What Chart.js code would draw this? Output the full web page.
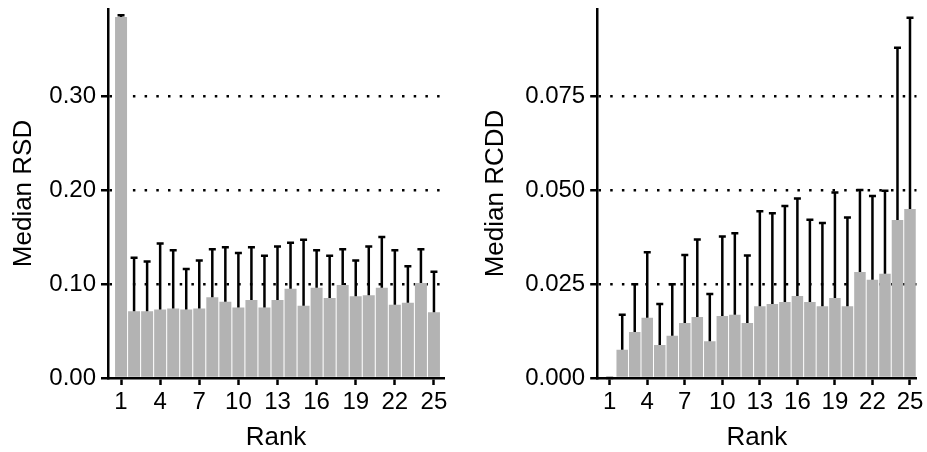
<!DOCTYPE html>
<html>
<head>
<meta charset="utf-8">
<script src="https://cdn.jsdelivr.net/npm/chart.js@4"></script>
<style>
  body { margin: 0; background: #fff; }
  #wrap { position: relative; width: 927px; height: 452px; }
  canvas { position: absolute; top: 0; }
  #rsd-chart { left: 0; }
  #rcdd-chart { left: 463px; }
</style>
</head>
<body>
<div id="wrap">
  <canvas id="rsd-chart" width="463" height="452"></canvas>
  <canvas id="rcdd-chart" width="464" height="452"></canvas>
</div>
<script>
const ranks = [1, 2, 3, 4, 5, 6, 7, 8, 9, 10, 11, 12, 13, 14, 15, 16, 17, 18, 19, 20, 21, 22, 23, 24, 25];
const rankTicks = [1, 4, 7, 10, 13, 16, 19, 22, 25];

const rsdMedian = [0.384, 0.071, 0.071, 0.073, 0.074, 0.073, 0.074, 0.086, 0.081, 0.075, 0.083, 0.075, 0.083,
  0.095, 0.077, 0.096, 0.085, 0.099, 0.087, 0.088, 0.096, 0.078, 0.080, 0.101, 0.070];
const rsdUpper = [0.386, 0.128, 0.124, 0.143, 0.136, 0.116, 0.125, 0.137, 0.139, 0.133, 0.139, 0.130, 0.140,
  0.144, 0.147, 0.136, 0.130, 0.137, 0.125, 0.140, 0.150, 0.136, 0.119, 0.137, 0.113];
const rsdTicks = [0, 0.1, 0.2, 0.3];

const rcddMedian = [0.0, 0.0075, 0.0122, 0.0160, 0.0088, 0.0112, 0.0146, 0.0162, 0.0098, 0.0165, 0.0168, 0.0146,
  0.0191, 0.0197, 0.0202, 0.0218, 0.0202, 0.0191, 0.0213, 0.0191, 0.0282, 0.0261, 0.0277, 0.0420, 0.0449];
const rcddUpper = [0.0, 0.0168, 0.0249, 0.0334, 0.0197, 0.0249, 0.0327, 0.0368, 0.0223, 0.0376, 0.0385, 0.0326,
  0.0443, 0.0438, 0.0457, 0.0477, 0.0421, 0.0412, 0.0493, 0.0427, 0.0500, 0.0484, 0.0498, 0.0878, 0.0958];
const rcddTicks = [0, 0.025, 0.05, 0.075];

const BAR_GREY = "#b3b3b3";
const FONT_FAMILY = "'Liberation Sans', Arial, Helvetica, sans-serif";
const TICK_FONT = { family: FONT_FAMILY, size: 24 };
const TITLE_FONT = { family: FONT_FAMILY, size: 26, lineHeight: 1 };

Chart.defaults.color = "#000";

// upper whiskers drawn from the top of each bar
const errorBars = {
  id: "errorBars",
  afterDatasetsDraw(chart, args, opts) {
    const { ctx } = chart;
    const yScale = chart.scales.y;
    ctx.save();
    ctx.strokeStyle = "#000";
    ctx.lineWidth = 2.5;
    chart.getDatasetMeta(0).data.forEach((bar, i) => {
      const top = yScale.getPixelForValue(opts.upper[i]);
      ctx.beginPath();
      ctx.moveTo(bar.x, bar.y);
      ctx.lineTo(bar.x, top);
      ctx.moveTo(bar.x - 3.5, top);
      ctx.lineTo(bar.x + 3.5, top);
      ctx.stroke();
    });
    ctx.restore();
  },
};

function buildChart(canvasId, cfg) {
  const points = ranks.map((r, i) => ({ x: r, y: cfg.median[i] }));
  return new Chart(document.getElementById(canvasId), {
    type: "bar",
    data: {
      datasets: [
        {
          data: points,
          backgroundColor: BAR_GREY,
          borderWidth: 0,
          barPercentage: 0.92,
          categoryPercentage: 1,
        },
      ],
    },
    options: {
      responsive: false,
      animation: false,
      layout: { padding: { top: 9, right: cfg.padRight, left: 0, bottom: 0 } },
      plugins: {
        legend: { display: false },
        tooltip: { enabled: false },
        errorBars: { upper: cfg.upper },
      },
      scales: {
        x: {
          type: "linear",
          min: 0,
          max: cfg.xMax,
          offset: false,
          afterBuildTicks: (s) => {
            s.ticks = rankTicks.map((v) => ({ value: v }));
          },
          afterFit: (s) => {
            s.height = 74;
            s.paddingLeft = 0;
            s.paddingRight = 0;
          },
          grid: {
            offset: false,
            drawOnChartArea: false,
            drawTicks: true,
            tickLength: 7,
            tickWidth: 2.5,
            color: "#000",
            tickColor: "#000",
          },
          border: { display: true, color: "#000", width: 2.5, z: 1 },
          ticks: {
            font: TICK_FONT,
            padding: 3,
            maxRotation: 0,
            autoSkip: false,
            callback: (v) => String(v),
          },
          title: { display: true, text: "Rank", font: TITLE_FONT, padding: { top: 0, bottom: 1 } },
        },
        y: {
          min: 0,
          max: cfg.yMax,
          afterBuildTicks: (s) => {
            s.ticks = cfg.yTicks.map((v) => ({ value: v }));
          },
          afterFit: (s) => {
            s.width = cfg.axisWidth;
            s.paddingTop = 0;
            s.paddingBottom = 0;
          },
          grid: {
            color: (ctx) => (ctx.tick && ctx.tick.value === 0 ? "rgba(0,0,0,0)" : "#000"),
            lineWidth: 2.5,
            tickLength: 7,
            tickWidth: 2.5,
            tickColor: "#000",
          },
          border: { display: true, color: "#000", width: 2.5, dash: [2.5, 9.2], z: 1 },
          ticks: {
            font: TICK_FONT,
            padding: 5,
            callback: (v) => v.toFixed(cfg.decimals),
          },
          title: { display: true, text: cfg.yTitle, font: TITLE_FONT, padding: { top: cfg.titlePad, bottom: 0 } },
        },
      },
    },
    plugins: [errorBars],
  });
}

buildChart("rsd-chart", {
  median: rsdMedian,
  upper: rsdUpper,
  yTicks: rsdTicks,
  yMax: 0.3926,
  xMax: 25.77,
  decimals: 2,
  yTitle: "Median RSD",
  axisWidth: 108,
  padRight: 19,
  titlePad: 11,
});

buildChart("rcdd-chart", {
  median: rcddMedian,
  upper: rcddUpper,
  yTicks: rcddTicks,
  yMax: 0.0981,
  xMax: 25.52,
  decimals: 3,
  yTitle: "Median RCDD",
  axisWidth: 134.2,
  padRight: 10.5,
  titlePad: 20,
});
</script>
</body>
</html>
